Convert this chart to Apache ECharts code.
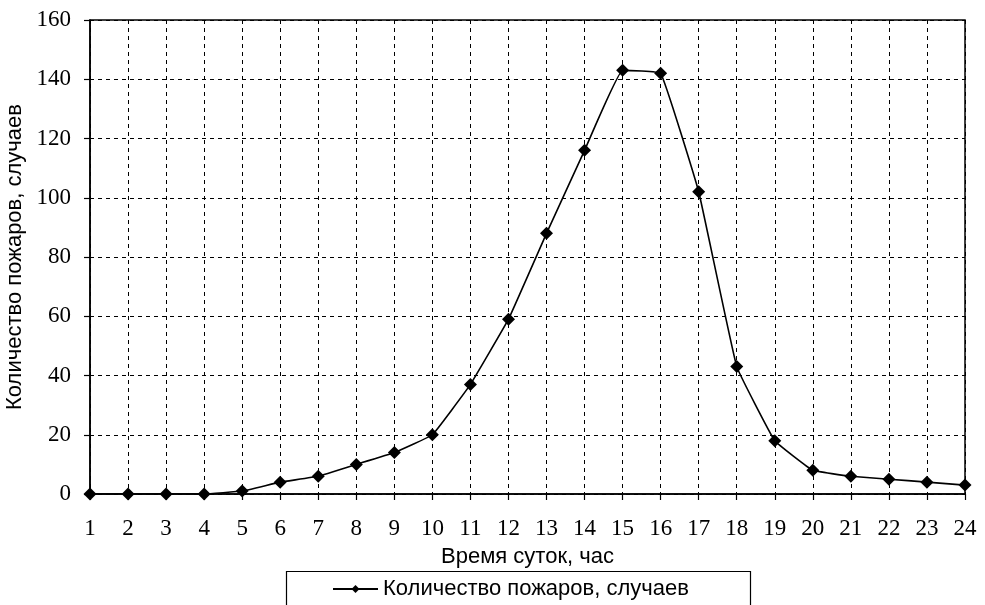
<!DOCTYPE html>
<html>
<head>
<meta charset="utf-8">
<script src="https://cdn.jsdelivr.net/npm/echarts@6/dist/echarts.min.js"></script>
<style>
  html, body { margin: 0; padding: 0; background: #fff; }
  #main { width: 985px; height: 605px; }
</style>
</head>
<body>
<div id="main"></div>
<script>
// часы суток
const hours = ['1','2','3','4','5','6','7','8','9','10','11','12','13','14','15','16','17','18','19','20','21','22','23','24']
// количество пожаров
const fires = [0, 0, 0, 0, 1, 4, 6, 10, 14, 20, 37, 59, 88, 116, 143, 142, 102, 43, 18, 8, 6, 5, 4, 3]
const yTicks = [0, 20, 40, 60, 80, 100, 120, 140, 160]

const serif = '"Liberation Serif", "Times New Roman", serif'
const sans = '"Liberation Sans", Arial, sans-serif'

let myChart = echarts.init(document.getElementById('main'))
myChart.setOption({
  animation: false,
  backgroundColor: '#fff',
  grid: {
    left: 90,
    right: 20,
    top: 20,
    bottom: 111,
    outerBoundsMode: 'none',
    containLabel: false,
    show: true,
    borderColor: '#000',
    borderWidth: 1.5,
  },
  legend: {
    data: ['Количество пожаров, случаев'],
    left: 332,
    top: 578,
    itemWidth: 45,
    itemHeight: 10,
    itemGap: 5,
    padding: 0,
    textStyle: { fontFamily: sans, fontSize: 22, color: '#000' },
  },
  graphic: [
    {
      type: 'rect',
      left: 284,
      top: 569,
      shape: { width: 464, height: 60 },
      style: { fill: 'none', stroke: '#000', lineWidth: 1.2 },
    },
  ],
  xAxis: {
    type: 'category',
    boundaryGap: false,
    data: hours,
    name: 'Время суток, час',
    nameLocation: 'middle',
    nameGap: 52,
    nameTextStyle: { fontFamily: sans, fontSize: 22, color: '#000' },
    axisLine: { lineStyle: { color: '#000', width: 1.5 } },
    axisTick: { show: true, length: 6, inside: false, alignWithLabel: true, lineStyle: { color: '#000', width: 1.2 } },
    axisLabel: { fontFamily: serif, fontSize: 23, color: '#000', margin: 23, interval: 0 },
    splitLine: {
      show: true,
      lineStyle: { color: '#000', width: 1, type: [4, 4] },
    },
  },
  yAxis: {
    type: 'value',
    min: yTicks[0],
    max: yTicks[yTicks.length - 1],
    interval: 20,
    name: 'Количество пожаров, случаев',
    nameLocation: 'middle',
    nameGap: 62,
    nameTextStyle: { fontFamily: sans, fontSize: 22, color: '#000' },
    axisLine: { show: true, lineStyle: { color: '#000', width: 1.5 } },
    axisTick: { show: true, length: 6, lineStyle: { color: '#000', width: 1.2 } },
    axisLabel: { fontFamily: serif, fontSize: 23, color: '#000', margin: 19 },
    splitLine: {
      lineStyle: { color: '#000', width: 1, type: [4, 4] },
    },
  },
  series: [
    {
      name: 'Количество пожаров, случаев',
      type: 'line',
      data: fires,
      smooth: 0.08,
      symbol: 'diamond',
      symbolSize: 13,
      itemStyle: { color: '#000' },
      lineStyle: { color: '#000', width: 1.6 },
    },
  ],
})
</script>
</body>
</html>
